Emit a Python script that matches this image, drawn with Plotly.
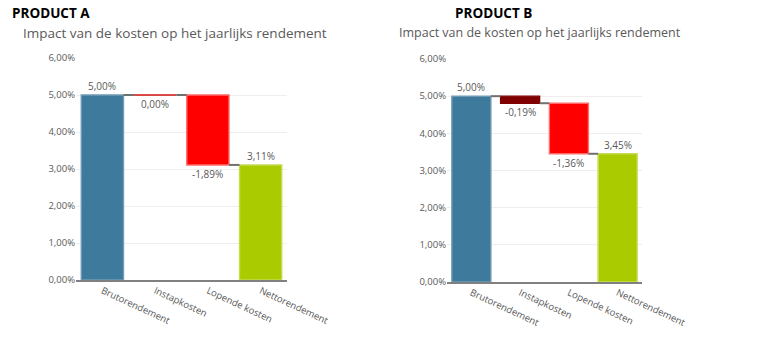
import plotly.graph_objects as go

categories = ["Brutorendement", "Instapkosten", "Lopende kosten", "Nettorendement"]
values_a = [5.00, 0.00, -1.89, 3.11]
values_b = [5.00, -0.19, -1.36, 3.45]
measures = ["absolute", "relative", "relative", "total"]
colors_a = ["#3d7a9b", "#ff0000", "#ff0000", "#aacb00"]
colors_b = ["#3d7a9b", "#7f0000", "#ff0000", "#aacb00"]
border_a = ["#6f9bb5", "#d01010", "#ff6a6a", "#c4dc50"]
border_b = ["#6f9bb5", "#7f0000", "#ff6a6a", "#c4dc50"]
title_a = "PRODUCT A"
title_b = "PRODUCT B"
subtitle = "Impact van de kosten op het jaarlijks rendement"

TXT = "#595959"
FONT = "Open Sans"


def build(values):
    bases, heights, ends = [], [], []
    level = 0.0
    for v, m in zip(values, measures):
        if m == "absolute":
            bases.append(0.0); heights.append(v); level = v
        elif m == "relative":
            bases.append(level); heights.append(v); level = level + v
        else:
            bases.append(0.0); heights.append(level)
        ends.append(bases[-1] + heights[-1])
    return bases, heights, ends


fig = go.Figure()
annotations = []

panels = [
    (values_a, colors_a, border_a, "x", "y"),
    (values_b, colors_b, border_b, "x2", "y2"),
]
for values, colors, borders, xa, ya in panels:
    bases, heights, ends = build(values)
    xs = list(range(len(categories)))
    fig.add_trace(go.Bar(
        x=xs, y=heights, base=bases, width=0.8,
        marker=dict(color=colors, line=dict(color=borders, width=1.4)),
        xaxis=xa, yaxis=ya, showlegend=False, hoverinfo="skip",
    ))
    # connectors between consecutive bars
    cx, cy = [], []
    for i in range(len(categories) - 1):
        lvl = ends[i]
        cx += [i + 0.4, i + 0.6, None]
        cy += [lvl, lvl, None]
    fig.add_trace(go.Scatter(
        x=cx, y=cy, mode="lines", line=dict(color="#707070", width=2),
        xaxis=xa, yaxis=ya, showlegend=False, hoverinfo="skip",
    ))
    # value labels
    for i, v in enumerate(values):
        below = measures[i] == "relative"
        annotations.append(dict(
            text=("%.2f%%" % v).replace(".", ","), x=i, y=ends[i],
            xref=xa, yref=ya, showarrow=False, xanchor="center", yanchor="middle",
            yshift=-9 if below else 9,
            font=dict(family=FONT, size=10, color=TXT),
        ))

xcommon = dict(
    range=[-0.5, 3.5], tickmode="array", tickvals=list(range(len(categories))),
    ticktext=categories, tickangle=25, showgrid=False, zeroline=False,
    showline=True, linecolor="#808080", linewidth=1.5, ticks="",
    tickfont=dict(family=FONT, size=9.5, color=TXT), fixedrange=True,
    automargin=False,
)
ycommon = dict(
    range=[0, 6], dtick=1, tickformat=".2f", ticksuffix="%",
    showgrid=True, gridcolor="#eeeeee", gridwidth=1, zeroline=False,
    showline=False, ticks="", tickfont=dict(family=FONT, size=9.5, color=TXT),
    fixedrange=True, automargin=False,
)

annotations += [
    dict(text="<b>" + title_a + "</b>", x=10 / 760, y=1 - 13 / 338, xref="paper", yref="paper",
         xanchor="left", yanchor="middle", showarrow=False,
         font=dict(family="Open Sans", size=13.5, color="#000000")),
    dict(text="<b>" + title_b + "</b>", x=453 / 760, y=1 - 13 / 338, xref="paper", yref="paper",
         xanchor="left", yanchor="middle", showarrow=False,
         font=dict(family="Open Sans", size=13.5, color="#000000")),
    dict(text=subtitle, x=21 / 760, y=1 - 33 / 338, xref="paper", yref="paper",
         xanchor="left", yanchor="middle", showarrow=False,
         font=dict(family=FONT, size=13.5, color=TXT)),
    dict(text=subtitle, x=397 / 760, y=1 - 33 / 338, xref="paper", yref="paper",
         xanchor="left", yanchor="middle", showarrow=False,
         font=dict(family=FONT, size=12.5, color=TXT)),
]

fig.update_layout(
    template="none",
    width=760, height=338, autosize=False,
    margin=dict(l=0, r=0, t=0, b=0, pad=0),
    paper_bgcolor="white", plot_bgcolor="white",
    separators=",.",
    barmode="overlay",
    xaxis=dict(domain=[76 / 760, 287 / 760], anchor="y", **xcommon),
    yaxis=dict(domain=[1 - 280 / 338, 1 - 58 / 338], anchor="x", **ycommon),
    xaxis2=dict(domain=[447 / 760, 642 / 760], anchor="y2", **xcommon),
    yaxis2=dict(domain=[1 - 282 / 338, 1 - 59 / 338], anchor="x2", **ycommon),
    annotations=annotations,
)

fig.write_html("out.html")
